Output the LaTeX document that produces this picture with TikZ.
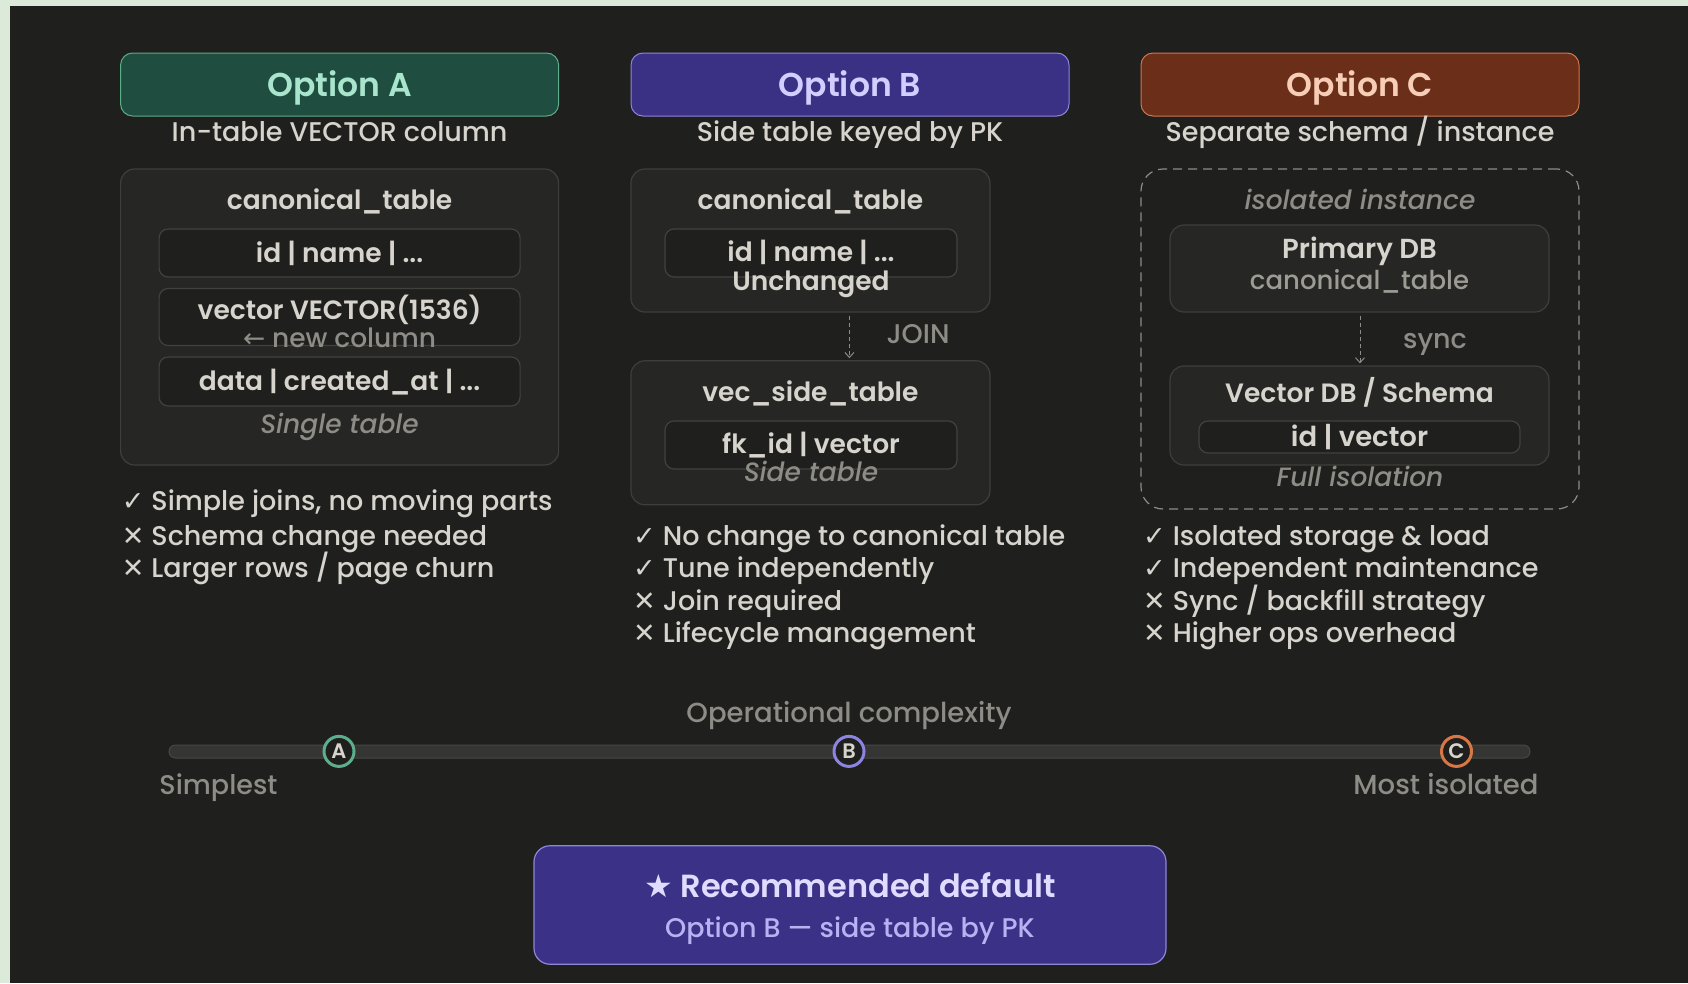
\documentclass[tikz,border=0pt]{standalone}
\usepackage{fontspec}
\setmainfont{Poppins}[UprightFont=* Medium, BoldFont=* SemiBold,
  ItalicFont=* Medium Italic, BoldItalicFont=* SemiBold Italic]
\newfontfamily\symfont{DejaVu Sans}
\usetikzlibrary{arrows.meta}

\definecolor{frame}{HTML}{DCEBD9}
\definecolor{bg}{HTML}{1F1F1D}
\definecolor{panelfill}{HTML}{262624}
\definecolor{panelline}{HTML}{3E3E3B}
\definecolor{rowfill}{HTML}{1F1F1E}
\definecolor{rowline}{HTML}{41413E}
\definecolor{txt}{HTML}{D6D4CC}
\definecolor{dim}{HTML}{8E8C86}
\definecolor{aFill}{HTML}{1F4E40}
\definecolor{aLine}{HTML}{5DAE8C}
\definecolor{aText}{HTML}{A9E5CD}
\definecolor{bFill}{HTML}{3A3185}
\definecolor{bLine}{HTML}{8C84E2}
\definecolor{bText}{HTML}{D2CEFF}
\definecolor{cFill}{HTML}{6B2E18}
\definecolor{cLine}{HTML}{D3764E}
\definecolor{cText}{HTML}{F6CDB6}
\definecolor{track}{HTML}{353533}
\definecolor{trackline}{HTML}{474745}
\definecolor{recFill}{HTML}{3B3287}
\definecolor{recLine}{HTML}{8D86D8}
\definecolor{recText}{HTML}{E0DCFF}
\definecolor{recSub}{HTML}{B8B1F2}

\newcommand{\fs}[1]{\fontsize{#1}{#1}\selectfont}
\newcommand{\ok}{{\symfont ✓}}
\newcommand{\no}{{\symfont ✕}}

\tikzset{
  % text box whose centre sits at the middle of the capitals
  txtbox/.style={inner sep=0pt, text height=0.7*#1 pt, text depth=0pt},
  hdr/.style={rounded corners=12pt, line width=1pt, minimum width=438pt, minimum height=63pt,
    font=\fs{33}\bfseries, txtbox=33},
  sub/.style={text=txt, font=\fs{27}, txtbox=27},
  panel/.style={draw=panelline, fill=panelfill, line width=1.2pt, rounded corners=14pt, inner sep=0pt},
  row/.style={draw=rowline, fill=rowfill, line width=1.2pt, rounded corners=9pt, inner sep=0pt},
  ttl/.style={text=txt, font=\fs{26.5}\bfseries, txtbox=26.5},
  cell/.style={text=txt, font=\fs{26.5}\bfseries, txtbox=26.5},
  note/.style={text=dim, font=\fs{26.5}\itshape, txtbox=26.5},
  lbl/.style={text=dim, font=\fs{27}, txtbox=27},
  item/.style={text=txt, font=\fs{27}, anchor=west, txtbox=27},
  flow/.style={draw=dim, line width=1pt, dash pattern=on 4pt off 3pt, -{Straight Barb[length=5pt,width=9pt]}},
  dot/.style={circle, fill=bg, line width=3pt, minimum size=30pt, inner sep=0pt, text=txt,
    font=\fs{21}\bfseries, text height=14.7pt, text depth=0pt},
}

\begin{document}
\begin{tikzpicture}[x=1pt,y=-1pt]
\useasboundingbox (0,0) rectangle (1688,983);
\fill[frame] (0,0) rectangle (1688,983);
\fill[bg] (10,6) rectangle (1688,983);

% ---- headers and subtitles
\node[hdr, fill=aFill, draw=aLine, text=aText] (hA) at (339.6,84.5) {Option A};
\node[hdr, fill=bFill, draw=bLine, text=bText] (hB) at (850,84.5) {Option B};
\node[hdr, fill=cFill, draw=cLine, text=cText] (hC) at (1360,84.5) {Option C};
\node[sub] (sA) at (339.6,132.4) {In-table VECTOR column};
\node[sub] (sB) at (850,132.4) {Side table keyed by PK};
\node[sub] (sC) at (1360,132.4) {Separate schema / instance};

% ---- Option A: single table
\node[panel, minimum width=438pt, minimum height=296pt] (boxA) at (339.6,317) {};
\node[ttl] (tA) at (339.6,200) {canonical\_table};
\node[row, minimum width=361pt, minimum height=48pt] (rA1) at (339.6,253) {};
\node[cell] at (rA1) {id | name | ...};
\node[row, minimum width=361pt, minimum height=57pt] (rA2) at (339.6,317) {};
\node[cell] (vA) at (339.6,310) {vector VECTOR(1536)};
\node[lbl, font=\fs{26.5}] (nA) at (339.6,338) {{\symfont ←} new column};
\node[row, minimum width=361pt, minimum height=49pt] (rA3) at (339.6,381.5) {};
\node[cell] at (rA3) {data | created\_at | ...};
\node[note] (fA) at (339.6,424) {Single table};

% ---- Option B: side table
\node[panel, minimum width=359pt, minimum height=143pt] (boxB1) at (810.4,240.5) {};
\node[ttl] (tB1) at (810.4,200) {canonical\_table};
\node[row, minimum width=292pt, minimum height=48pt] (rB1) at (811,253) {};
\node[cell] at (811,252) {id | name | ...};
\node[cell] (uB) at (811,281) {Unchanged};
\node[panel, minimum width=359pt, minimum height=144pt] (boxB2) at (810.4,432.8) {};
\node[ttl] (tB2) at (810.4,392) {vec\_side\_table};
\node[row, minimum width=292pt, minimum height=48pt] (rB2) at (811,445) {};
\node[cell] at (811,444.6) {fk\_id | vector};
\node[note] (fB) at (811,472.6) {Side table};
\coordinate (jx) at (849.4,0);
\draw[flow] ([yshift=-3pt]boxB1.south -| jx) -- ([yshift=2pt]boxB2.north -| jx);
\node[lbl] (join) at (918,334) {JOIN};

% ---- Option C: separate instance
\node[draw=dim, dash pattern=on 9pt off 6pt, line width=1.2pt, rounded corners=22pt,
      minimum width=438pt, minimum height=340pt, inner sep=0pt] (boxC) at (1360,339) {};
\node[note] (iC) at (1360,200) {isolated instance};
\node[panel, minimum width=379pt, minimum height=87pt] (pC) at (1359.5,268.5) {};
\node[ttl, font=\fs{27.5}\bfseries] at (1359.5,249) {Primary DB};
\node[lbl, text=dim!80!txt, font=\fs{26}] at (1359.5,280) {canonical\_table};
\node[panel, minimum width=379pt, minimum height=99pt] (vC) at (1359.5,415.5) {};
\node[ttl] at (1359.5,393) {Vector DB / Schema};
\node[row, minimum width=321pt, minimum height=32pt] (rC) at (1359.5,437) {};
\node[cell, font=\fs{27.5}\bfseries] at (rC) {id | vector};
\node[note] (fC) at (1360,477) {Full isolation};
\coordinate (sx) at (1360,0);
\draw[flow] ([yshift=-3pt]pC.south -| sx) -- ([yshift=2pt]vC.north -| sx);
\node[lbl] (sync) at (1435,339) {sync};

% ---- pros and cons
\node[item] (a1) at (121.6,500.6) {\ok\ Simple joins, no moving parts};
\node[item] (a2) at (121.6,536) {\no\ Schema change needed};
\node[item] (a3) at (121.6,568.4) {\no\ Larger rows / page churn};
\node[item] (b1) at (633,536) {\ok\ No change to canonical table};
\node[item] (b2) at (633,568.4) {\ok\ Tune independently};
\node[item] (b3) at (633,600.7) {\no\ Join required};
\node[item] (b4) at (633,633) {\no\ Lifecycle management};
\node[item] (c1) at (1143,536) {\ok\ Isolated storage \& load};
\node[item] (c2) at (1143,568.4) {\ok\ Independent maintenance};
\node[item] (c3) at (1143,600.7) {\no\ Sync / backfill strategy};
\node[item] (c4) at (1143,633) {\no\ Higher ops overhead};

% ---- complexity scale
\node[lbl, font=\fs{27.5}] (oc) at (849,712.6) {Operational complexity};
\draw[fill=track, draw=trackline, line width=1pt, rounded corners=6.5pt] (169,745) rectangle (1530,758);
\node[dot, draw=aLine] (dA) at (339,751.4) {A};
\node[dot, draw=bLine] (dB) at (849,751.4) {B};
\node[dot, draw=cLine!90!orange] (dC) at (1456.5,751.4) {C};
\node[lbl] (lo) at (218.5,785) {Simplest};
\node[lbl, font=\fs{27.5}] (hi) at (1446,785) {Most isolated};

% ---- recommendation
\node[draw=recLine, fill=recFill, line width=1.2pt, rounded corners=16pt,
      minimum width=632pt, minimum height=118.5pt, inner sep=0pt] (rec) at (850,905) {};
\node[text=recText, font=\fs{32}\bfseries, txtbox=32] at (850,886) {{\symfont ★}\ Recommended default};
\node[text=recSub, font=\fs{27}, txtbox=27] at (850,928) {Option B — side table by PK};
\end{tikzpicture}
\end{document}
